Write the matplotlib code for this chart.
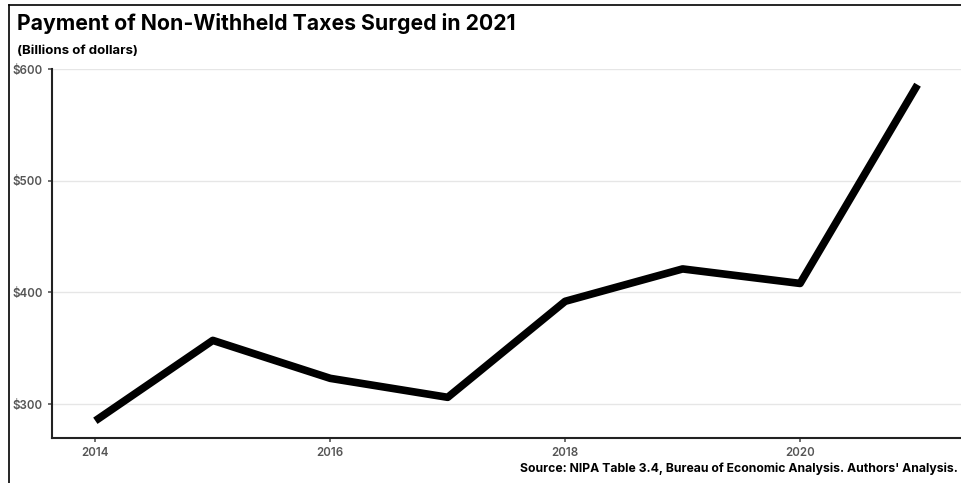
import matplotlib.pyplot as plt
from matplotlib.lines import Line2D

# data (billions of dollars)
years = [2014, 2015, 2016, 2017, 2018, 2019, 2020, 2021]
taxes = [285, 357, 323, 306, 392, 421, 408, 586]
yticks = [300, 400, 500, 600]
xticks = [2014, 2016, 2018, 2020]

plt.rcParams['font.family'] = ['Inter', 'DejaVu Sans']

fig = plt.figure(figsize=(9.61, 4.83), dpi=100)
ax = fig.add_axes([0.054, 0.093, 0.946, 0.764])

ax.plot(years, taxes, color='black', linewidth=5.5, solid_capstyle='butt')

ax.set_xlim(2013.63, 2021.37)
ax.set_ylim(269.5, 600)
ax.set_xticks(xticks)
ax.set_yticks(yticks)
ax.set_yticklabels(['$' + str(v) for v in yticks])
ax.grid(axis='y', color='#e6e6e6', linewidth=1)
ax.set_axisbelow(True)
for s in ['top', 'right']:
    ax.spines[s].set_visible(False)
for s in ['left', 'bottom']:
    ax.spines[s].set_linewidth(1.5)
    ax.spines[s].set_color('#222222')
ax.tick_params(colors='#555555', labelsize=8.3, length=3, width=1.2)
for lab in ax.get_xticklabels() + ax.get_yticklabels():
    lab.set_fontweight('semibold')

# titles and source
fig.text(0.018, 0.937, 'Payment of Non-Withheld Taxes Surged in 2021',
         fontsize=15.3, fontweight='bold', va='baseline')
fig.text(0.018, 0.888, '(Billions of dollars)', fontsize=9.5,
         fontweight='bold', va='baseline')
fig.text(0.997, 0.022, "Source: NIPA Table 3.4, Bureau of Economic Analysis. Authors' Analysis.",
         fontsize=8.8, fontweight='bold', ha='right', va='baseline')

# outer frame (left and top only)
fig.add_artist(Line2D([0.0095, 0.0095], [0, 0.99], color='black', linewidth=1.2))
fig.add_artist(Line2D([0.0095, 1.0], [0.99, 0.99], color='black', linewidth=1.2))

fig.savefig('out.png', dpi=100)
